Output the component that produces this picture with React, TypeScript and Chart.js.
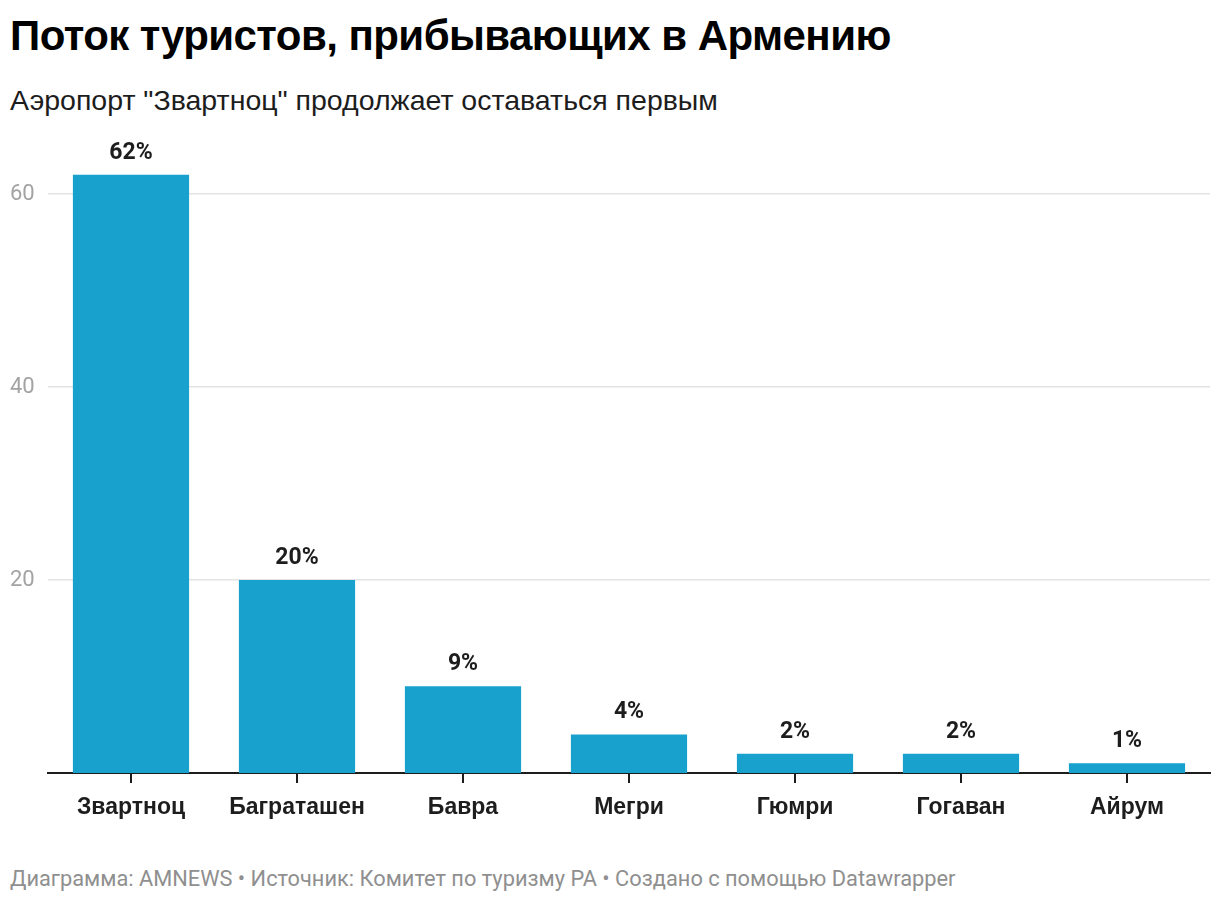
import { useEffect, useRef } from 'react';
import { Chart, registerables } from 'chart.js';

Chart.register(...registerables);

const airports = ['Звартноц', 'Баграташен', 'Бавра', 'Мегри', 'Гюмри', 'Гогаван', 'Айрум'];
const shares = [62, 20, 9, 4, 2, 2, 1];
const yTicks = [20, 40, 60];

const title = 'Поток туристов, прибывающих в Армению';
const subtitle = 'Аэропорт "Звартноц" продолжает оставаться первым';
const footer = 'Диаграмма: AMNEWS • Источник: Комитет по туризму РА • Создано с помощью Datawrapper';

const barLabels = {
    id: 'barLabels',
    afterDatasetsDraw(chart: any) {
        const ctx = chart.ctx;
        const meta = chart.getDatasetMeta(0);
        ctx.save();
        ctx.font = 'bold 23px Roboto';
        ctx.fillStyle = '#1d1d1d';
        ctx.textAlign = 'center';
        ctx.textBaseline = 'alphabetic';
        meta.data.forEach((bar: any, i: number) => {
            ctx.fillText(shares[i] + '%', bar.x, bar.y - 16);
        });
        ctx.restore();
    },
};

function BarChart() {
    const canvasRef = useRef<HTMLCanvasElement>(null);
    const chartRef = useRef<Chart | null>(null);

    useEffect(() => {
        if (!canvasRef.current) return;
        if (chartRef.current) chartRef.current.destroy();
        chartRef.current = new Chart(canvasRef.current, {
            type: 'bar',
            data: {
                labels: airports,
                datasets: [
                    {
                        data: shares,
                        backgroundColor: '#19a1cd',
                        barPercentage: 0.7,
                        categoryPercentage: 1,
                    },
                ],
            },
            options: {
                animation: false,
                responsive: false,
                layout: { padding: { left: 10, right: 10, top: 25.75, bottom: 7 } },
                plugins: {
                    legend: { display: false },
                    tooltip: { enabled: false },
                },
                scales: {
                    x: {
                        grid: {
                            drawOnChartArea: false,
                            drawTicks: true,
                            tickLength: 10,
                            color: '#1d1d1d',
                            lineWidth: 2,
                            offset: false,
                        },
                        border: { display: true, color: '#1d1d1d', width: 2 },
                        ticks: {
                            color: '#1d1d1d',
                            font: { family: 'Liberation Sans', size: 23, weight: 'bold' },
                            padding: 11,
                            maxRotation: 0,
                        },
                        afterFit: (scale: any) => {
                            scale.height = 60;
                        },
                    },
                    y: {
                        min: 0,
                        max: 65,
                        grid: { color: '#e3e3e3', lineWidth: 1.5, drawTicks: false },
                        border: { display: false },
                        ticks: {
                            color: '#a3a3a3',
                            font: { family: 'Roboto', size: 22 },
                            crossAlign: 'far',
                            padding: 0,
                        },
                        afterBuildTicks: (scale: any) => {
                            scale.ticks = yTicks.map((v) => ({ value: v }));
                        },
                        afterFit: (scale: any) => {
                            scale.width = 38;
                        },
                    },
                },
            },
            plugins: [barLabels],
        });
        return () => {
            if (chartRef.current) {
                chartRef.current.destroy();
                chartRef.current = null;
            }
        };
    }, []);

    return (
        <canvas
            ref={canvasRef}
            width={1220}
            height={720}
            style={{ position: 'absolute', left: 0, top: 120, width: 1220, height: 720 }}
        />
    );
}

export default function App() {
    return (
        <div
            style={{
                position: 'absolute',
                left: 0,
                top: 0,
                width: 1220,
                height: 904,
                background: '#fff',
                overflow: 'hidden',
            }}
        >
            <div
                style={{
                    position: 'absolute',
                    left: 10,
                    top: 15,
                    fontFamily: '"Liberation Sans", Arial, sans-serif',
                    fontWeight: 'bold',
                    fontSize: 42,
                    lineHeight: '42px',
                    color: '#000',
                    whiteSpace: 'nowrap',
                    letterSpacing: -0.55,
                }}
            >
                {title}
            </div>
            <div
                style={{
                    position: 'absolute',
                    left: 10,
                    top: 86,
                    fontFamily: '"Liberation Sans", Arial, sans-serif',
                    fontSize: 28.5,
                    lineHeight: '28px',
                    color: '#1d1d1d',
                    whiteSpace: 'nowrap',
                }}
            >
                {subtitle}
            </div>
            <BarChart />
            <div
                style={{
                    position: 'absolute',
                    left: 10,
                    top: 866,
                    fontFamily: 'Roboto, sans-serif',
                    fontSize: 21.8,
                    lineHeight: '26px',
                    color: '#8f8f8f',
                    whiteSpace: 'nowrap',
                }}
            >
                {footer}
            </div>
        </div>
    );
}
